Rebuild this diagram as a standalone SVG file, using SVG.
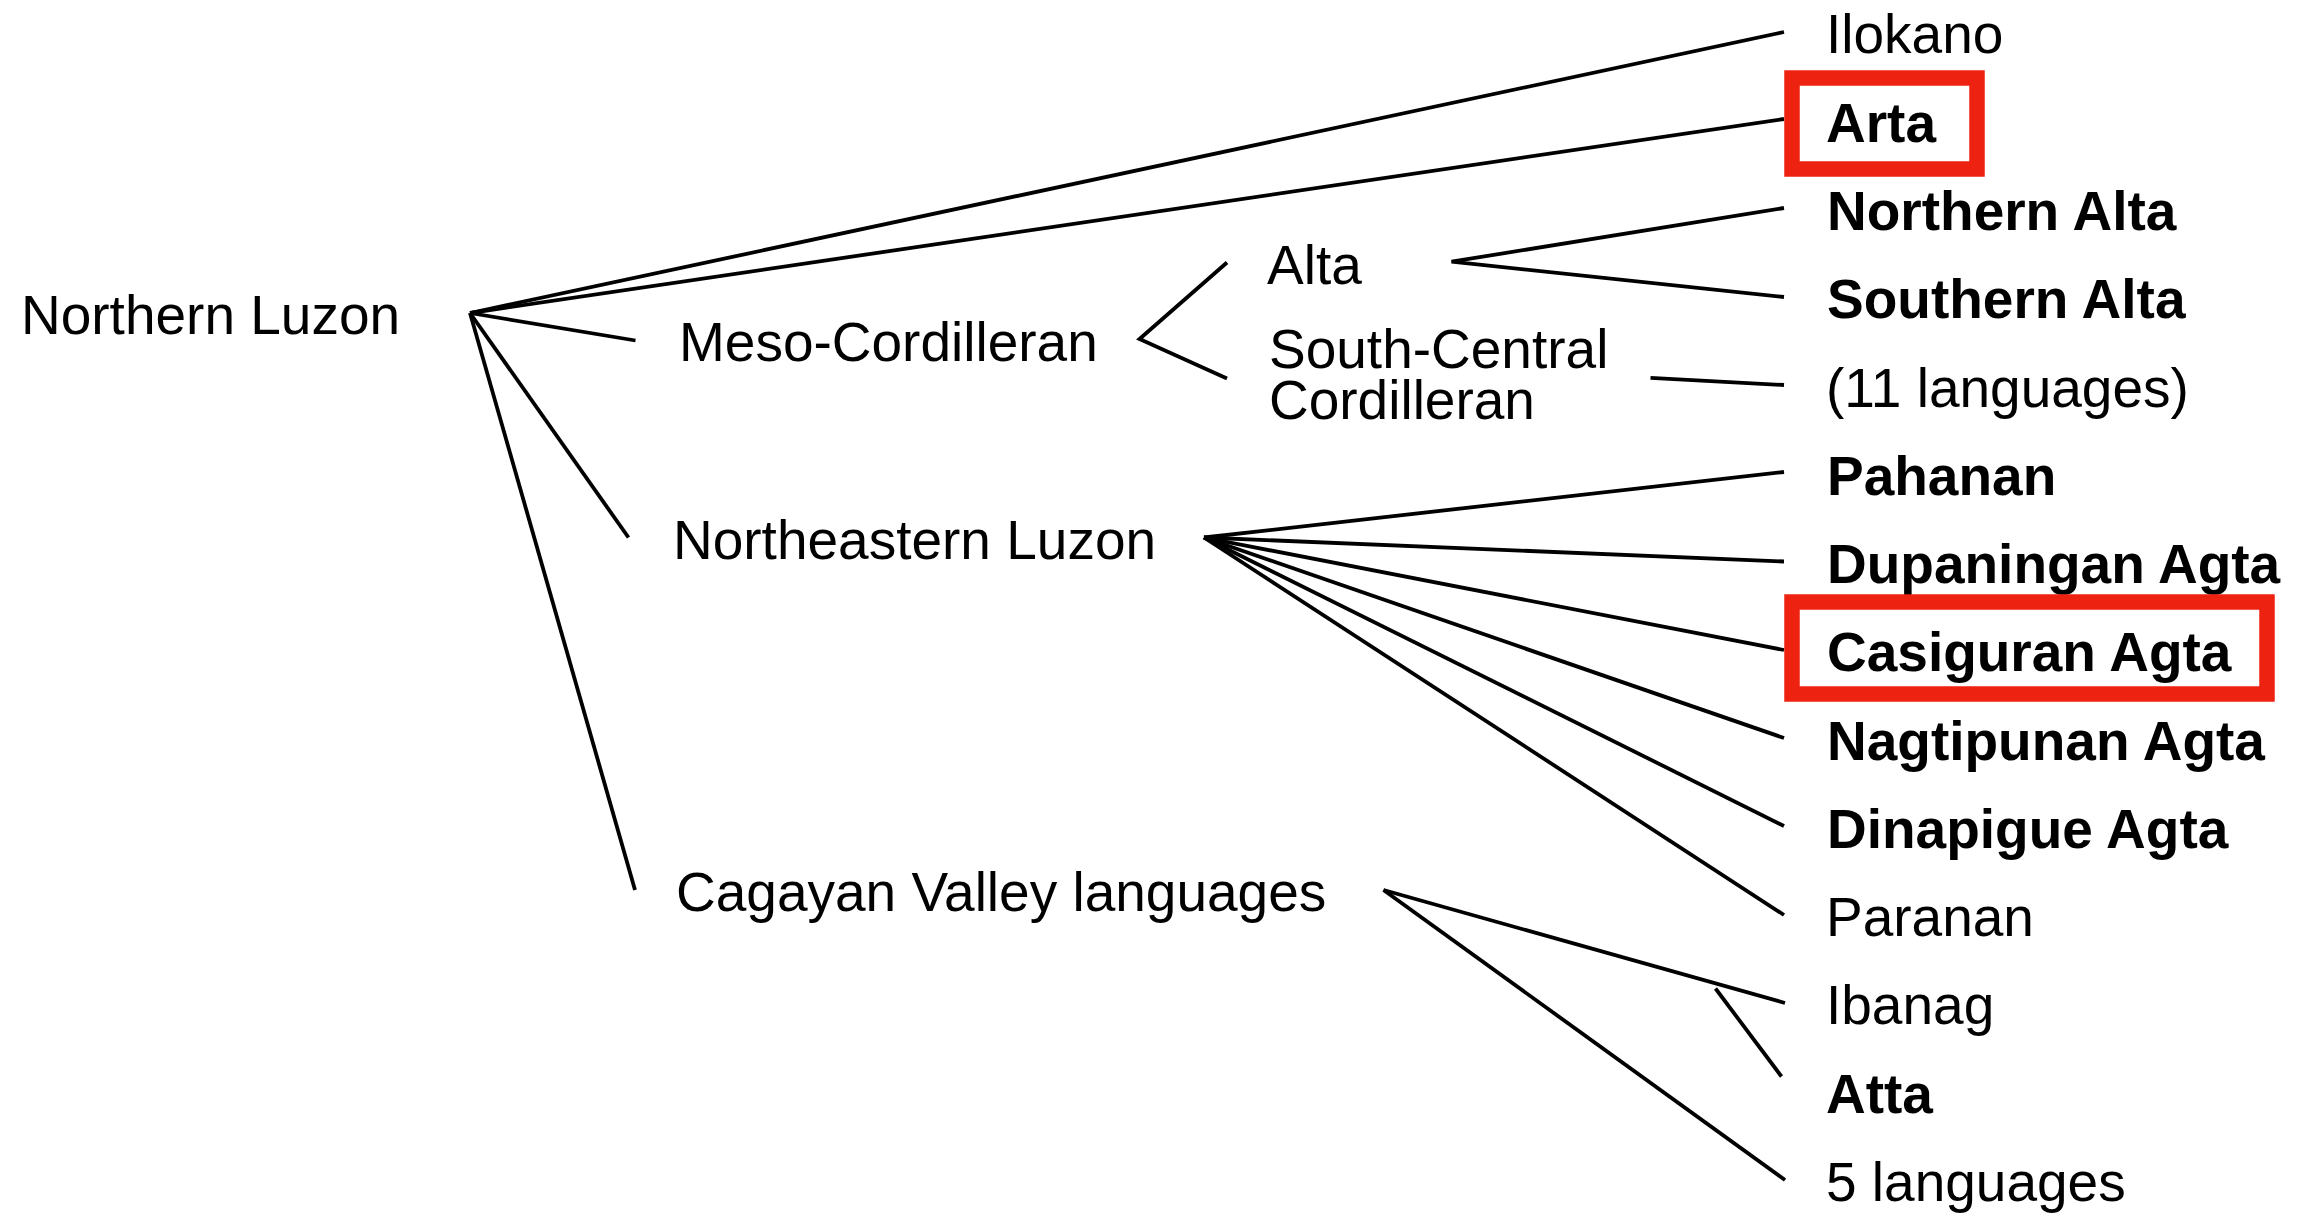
<svg xmlns="http://www.w3.org/2000/svg" width="2312" height="1213" viewBox="0 0 2312 1213">
<style>
text { font-family: "Liberation Sans", Arial, sans-serif; font-size: 55px; fill: #000; }
.b { font-weight: bold; }
.edge { stroke: #000; stroke-width: 3.8; fill: none; stroke-linecap: butt; }
.hl { fill: none; stroke: #EE2211; stroke-width: 15.5; }
</style>
<rect width="2312" height="1213" fill="#fff"/>
<g id="connectors">
  <line class="edge" x1="470" y1="313" x2="1784" y2="32"/>
  <line class="edge" x1="470" y1="313" x2="1784" y2="119"/>
  <line class="edge" x1="470" y1="313" x2="635.5" y2="340.5"/>
  <line class="edge" x1="470" y1="313" x2="628.5" y2="537.5"/>
  <line class="edge" x1="470" y1="313" x2="635" y2="890"/>
  <polyline class="edge" points="1227,262.5 1139.5,339 1227,378.5"/>
  <polyline class="edge" points="1784,208 1451.5,261.7 1784,297"/>
  <line class="edge" x1="1650.5" y1="377.8" x2="1784" y2="385"/>
  <line class="edge" x1="1204" y1="537.5" x2="1784" y2="472"/>
  <line class="edge" x1="1204" y1="537.5" x2="1784" y2="561.5"/>
  <line class="edge" x1="1204" y1="537.5" x2="1784" y2="650"/>
  <line class="edge" x1="1204" y1="537.5" x2="1784" y2="738"/>
  <line class="edge" x1="1204" y1="537.5" x2="1784" y2="826"/>
  <line class="edge" x1="1204" y1="537.5" x2="1784" y2="915"/>
  <line class="edge" x1="1383.5" y1="890" x2="1785" y2="1003"/>
  <line class="edge" x1="1383.5" y1="890" x2="1785" y2="1180"/>
  <line class="edge" x1="1715.5" y1="988.5" x2="1781.5" y2="1076.5"/>
</g>
<g id="northern-luzon"><text x="21" y="334">Northern Luzon</text></g>
<g id="meso-cordilleran"><text x="679" y="361">Meso-Cordilleran</text></g>
<g id="northeastern-luzon"><text x="673" y="559">Northeastern Luzon</text></g>
<g id="cagayan-valley"><text x="676" y="910.5">Cagayan Valley languages</text></g>
<g id="alta"><text x="1267" y="283.5">Alta</text></g>
<g id="south-central-cordilleran"><text x="1269" y="368"><tspan x="1269">South-Central</tspan><tspan x="1269" y="418.5">Cordilleran</tspan></text></g>
<g id="ilokano"><text x="1826" y="53">Ilokano</text></g>
<g id="arta"><rect class="hl" x="1792" y="78" width="185" height="91"/><text class="b" x="1826" y="141.5">Arta</text></g>
<g id="northern-alta"><text class="b" x="1827" y="230">Northern Alta</text></g>
<g id="southern-alta"><text class="b" x="1827" y="318">Southern Alta</text></g>
<g id="sc-languages"><text x="1826" y="406.5">(11 languages)</text></g>
<g id="pahanan"><text class="b" x="1827" y="494.8">Pahanan</text></g>
<g id="dupaningan"><text class="b" x="1827" y="583">Dupaningan Agta</text></g>
<g id="casiguran"><rect class="hl" x="1792" y="602" width="475" height="92"/><text class="b" x="1827" y="671">Casiguran Agta</text></g>
<g id="nagtipunan"><text class="b" x="1827" y="759.5">Nagtipunan Agta</text></g>
<g id="dinapigue"><text class="b" x="1827" y="848">Dinapigue Agta</text></g>
<g id="paranan"><text x="1826" y="936">Paranan</text></g>
<g id="ibanag"><text x="1826" y="1024.3">Ibanag</text></g>
<g id="atta"><text class="b" x="1826" y="1112.8">Atta</text></g>
<g id="cv-languages"><text x="1826" y="1200.5">5 languages</text></g>
</svg>
